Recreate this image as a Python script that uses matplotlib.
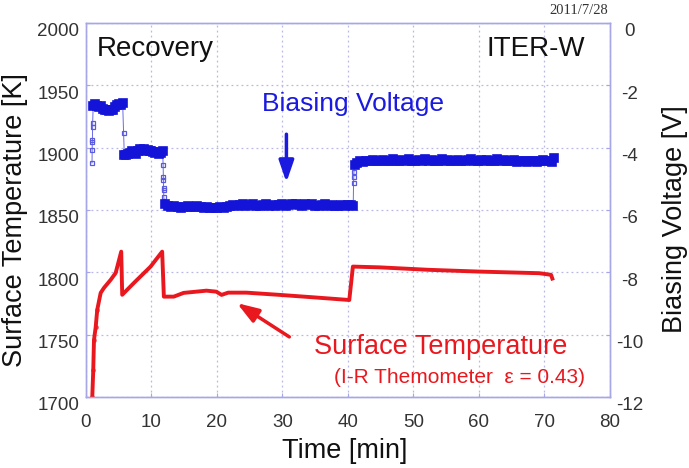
import matplotlib
matplotlib.use("Agg")
import matplotlib.pyplot as plt
from matplotlib.transforms import ScaledTranslation

plt.rcParams['font.family'] = ['Liberation Sans', 'DejaVu Sans']
plt.rcParams['axes.unicode_minus'] = False

# Surface temperature [K] vs time [min]
temp_t = [0.85, 0.96, 1.11, 1.22, 1.48, 1.72, 2.24, 2.74, 3.77, 4.53, 5.38,
          5.53, 7.32, 9.86, 11.63, 11.89, 13.4, 14.9, 18.4, 19.9, 20.7, 21.7,
          24.5, 29.6, 34.6, 40.2, 40.75, 44.8, 52.4, 60.0, 69.2, 71.0, 71.2]
temp_k = [1690, 1700, 1721.7, 1745.7, 1756, 1770, 1783.5, 1787.5, 1794, 1799.5, 1816.6,
          1782, 1791.5, 1804.6, 1816.6, 1780.5, 1780.5, 1783.5, 1785.3, 1784.5, 1781.9, 1783.7,
          1783.7, 1781.9, 1780, 1777.8, 1804.6, 1804, 1802, 1800.6, 1799.3, 1798, 1795]

# Biasing voltage [V] vs time [min]
volt_t = [0.92, 0.94, 0.96, 0.98, 1.0, 1.02,
          1.1, 1.4, 1.7, 2.0, 2.3, 2.6, 2.9, 3.2, 3.5, 3.8, 4.1, 4.4, 4.7, 5.0, 5.3, 5.6,
          5.75,
          5.85, 6.1, 6.4, 6.7, 7.0, 7.3, 7.6, 7.9, 8.2, 8.5, 8.8, 9.1, 9.4, 9.7, 10.0,
          10.3, 10.6, 10.9, 11.2, 11.5, 11.7,
          11.78, 11.8, 11.82, 11.84, 11.86, 11.88,
          12.0, 12.5, 13.0, 13.5, 14.0, 14.5, 15.0, 15.5, 16.0, 16.5, 17.0, 17.5, 18.0,
          18.5, 19.0, 19.5, 20.0, 20.5, 21.0, 21.5, 22.0, 22.5, 23.0, 23.5, 24.0, 24.5,
          25.0, 25.5, 26.0, 26.5, 27.0, 27.5, 28.0, 28.5, 29.0, 29.5, 30.0, 30.5, 31.0,
          31.5, 32.0, 32.5, 33.0, 33.5, 34.0, 34.5, 35.0, 35.5, 36.0, 36.5, 37.0, 37.5,
          38.0, 38.5, 39.0, 39.5, 40.0, 40.5, 40.8,
          40.85, 40.88, 40.91,
          41.0, 41.4, 41.8, 42.3, 42.8, 43.3, 43.8, 44.3, 44.8, 45.3, 45.8, 46.3, 46.8,
          47.3, 47.8, 48.3, 48.8, 49.3, 49.8, 50.3, 50.8, 51.3, 51.8, 52.3, 52.8, 53.3,
          53.8, 54.3, 54.8, 55.3, 55.8, 56.3, 56.8, 57.3, 57.8, 58.3, 58.8, 59.3, 59.8,
          60.3, 60.8, 61.3, 61.8, 62.3, 62.8, 63.3, 63.8, 64.3, 64.8, 65.3, 65.8, 66.3,
          66.8, 67.3, 67.8, 68.3, 68.8, 69.3, 69.8, 70.3, 70.8, 71.2, 71.5]
volt_v = [-4.49, -4.07, -3.82, -3.75, -3.34, -3.2,
          -2.65, -2.6, -2.65, -2.7, -2.66, -2.75, -2.8, -2.78, -2.82, -2.8, -2.78, -2.7,
          -2.62, -2.6, -2.64, -2.58,
          -3.53,
          -4.25, -4.22, -4.2, -4.18, -4.1, -4.15, -4.2, -4.12, -4.05, -4.08, -4.05, -4.1,
          -4.08, -4.12, -4.1, -4.15, -4.18, -4.15, -4.2, -4.17, -4.12,
          -4.56, -4.94, -5.04, -5.29, -5.36, -5.58,
          -5.82, -5.86, -5.92, -5.88, -5.9, -5.94, -5.9, -5.88, -5.92, -5.9, -5.86, -5.92,
          -5.94, -5.9, -5.93, -5.95, -5.94, -5.92, -5.94, -5.9, -5.86, -5.84, -5.88,
          -5.84, -5.82, -5.86, -5.84, -5.82, -5.86, -5.88, -5.84, -5.82, -5.86, -5.84,
          -5.88, -5.84, -5.82, -5.86, -5.84, -5.82, -5.8, -5.84, -5.86, -5.82, -5.84,
          -5.82, -5.86, -5.88, -5.84, -5.82, -5.86, -5.84, -5.88, -5.86, -5.84, -5.88,
          -5.85, -5.84, -5.88,
          -5.13, -4.95, -4.78,
          -4.55, -4.5, -4.44, -4.46, -4.42, -4.44, -4.4, -4.44, -4.42, -4.4, -4.44,
          -4.42, -4.38, -4.42, -4.44, -4.4, -4.42, -4.38, -4.42, -4.44, -4.4, -4.42,
          -4.38, -4.42, -4.4, -4.44, -4.42, -4.38, -4.42, -4.4, -4.44, -4.42, -4.4,
          -4.44, -4.42, -4.4, -4.38, -4.42, -4.44, -4.4, -4.42, -4.4, -4.44, -4.42,
          -4.38, -4.42, -4.4, -4.44, -4.42, -4.4, -4.46, -4.44, -4.42, -4.46, -4.44,
          -4.42, -4.46, -4.44, -4.4, -4.44, -4.42, -4.46, -4.32]
# indices of the sparse points taken while the voltage was switching
volt_switch = [0, 1, 2, 3, 4, 5, 22, 44, 45, 46, 47, 48, 49, 109, 110, 111]

x_ticks = [0, 10, 20, 30, 40, 50, 60, 70, 80]
t_ticks = [1700, 1750, 1800, 1850, 1900, 1950, 2000]
v_ticks = [-12, -10, -8, -6, -4, -2, 0]

spine_col = '#a7a7e8'
grid_col = '#b8b8e6'
tick_txt = '#333333'
blue = '#1414d8'
red = '#e8181e'

fig = plt.figure(figsize=(6.89, 4.68), dpi=100)
ax = fig.add_axes([0.1248, 0.1517, 0.7605, 0.7992])
ax2 = ax.twinx()

ax.plot(temp_t, temp_k, color=red, lw=2.8, solid_joinstyle='round', zorder=3)
ax.plot(temp_t[:6], temp_k[:6], ls='none', marker='o', ms=2.5, color=red,
        alpha=0.6, zorder=3)

# thin connecting line + hollow squares, then dense plateau points
ax2.plot(volt_t, volt_v, color='#6a6ae8', lw=0.7, zorder=3)
sw_t = [volt_t[i] for i in volt_switch]
sw_v = [volt_v[i] for i in volt_switch]
pl_t = [volt_t[i] for i in range(len(volt_t)) if i not in volt_switch]
pl_v = [volt_v[i] for i in range(len(volt_v)) if i not in volt_switch]
ax2.plot(sw_t, sw_v, ls='none', marker='s', ms=3.2, mfc='none',
         mec='#5a5ae0', mew=0.9, zorder=4)
ax2.plot(pl_t, pl_v, ls='none', marker='s', ms=6.3, mfc=blue, mec=blue,
         mew=1.2, zorder=4)

ax.set_xlim(0, 80)
ax.set_ylim(1700, 2000)
ax2.set_ylim(-12, 0)
ax.set_xticks(x_ticks)
ax.set_yticks(t_ticks)
ax2.set_yticks(v_ticks)

ax.grid(True, color=grid_col, linestyle=(0, (1.5, 2.5)), lw=0.9)
for a in (ax, ax2):
    for s in a.spines.values():
        s.set_color(spine_col)
        s.set_linewidth(1.0)
    a.tick_params(direction='in', length=3, color=spine_col, labelsize=13.5,
                  labelcolor=tick_txt)
ax.tick_params(axis='x', pad=12)
ax.tick_params(axis='y', pad=5)
ax2.tick_params(axis='y', pad=14)
shift = ScaledTranslation(0, -5 / 72, fig.dpi_scale_trans)
for lab in ax.get_yticklabels():
    lab.set_transform(lab.get_transform() + shift)
for lab in ax2.get_yticklabels():
    lab.set_horizontalalignment('center')
    lab.set_transform(lab.get_transform() + shift)

ax.set_xlabel('Time [min]', fontsize=19.5, color='#111111')
ax.set_ylabel('Surface Temperature [K]', fontsize=19.5, color='#111111')
ax2.set_ylabel('Biasing Voltage [V]', fontsize=19.5, color='#111111')
ax.xaxis.set_label_coords(0.494, -0.109)
ax.yaxis.set_label_coords(-0.110, 0.473)
ax2.yaxis.set_label_coords(1.099, 0.475)

ax.text(1.7, 1979, 'Recovery', fontsize=20, color='#111111', va='center')
ax.text(76.2, 1979, 'ITER-W', fontsize=20, color='#111111', va='center', ha='right')
fig.text(0.882, 0.978, '2011/7/28', fontsize=10.5, family='Liberation Serif',
         color='#333333', ha='right', va='center')

ax.text(40.7, 1935, 'Biasing Voltage', fontsize=19, color='#1a1ae0',
        ha='center', va='center')
ax.annotate('', xy=(30.6, 1870), xytext=(30.6, 1913),
            arrowprops=dict(arrowstyle='-|>,head_width=0.45,head_length=1.3',
                            color='#1a1ae0', lw=2.5))
ax.annotate('', xy=(22.7, 1776.5), xytext=(31.4, 1747),
            arrowprops=dict(arrowstyle='-|>,head_width=0.45,head_length=1.3',
                            color=red, lw=2.5))
ax.text(54.1, 1740, 'Surface Temperature', fontsize=19.5, color=red,
        ha='center', va='center')
ax.text(57, 1716, '(I-R Themometer  \u03b5 = 0.43)', fontsize=15,
        color=red, ha='center', va='center')

fig.savefig('out.png', dpi=100)
